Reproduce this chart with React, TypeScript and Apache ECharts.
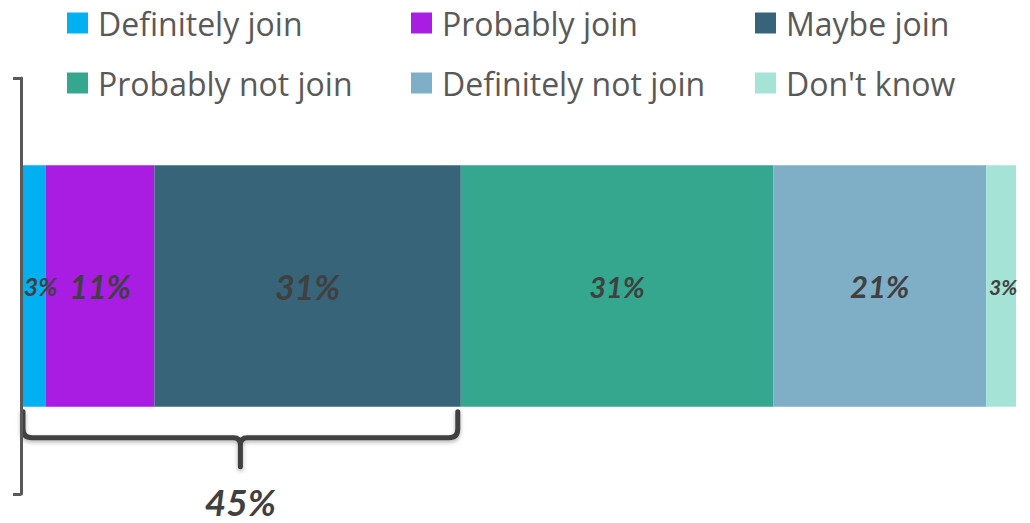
import React, { useEffect, useRef } from "react";
import * as echarts from "echarts";

const categories = [
  "Definitely join",
  "Probably join",
  "Maybe join",
  "Probably not join",
  "Definitely not join",
  "Don't know",
];
const values = [2.5, 10.9, 30.8, 31.4, 21.4, 3.0];
const colors = ["#00B0F0", "#A91DE3", "#376479", "#34A78E", "#7FAFC7", "#A5E3D6"];
const labelFontSizes = [25, 32, 34, 29, 31, 21];
const labelOffsets = [[7, 0], [0, 0], [0, 0], [0, 0], [0, 0], [2, 0]];
const braceCount = 3; // "join" answers grouped by the brace
const axisCategory = ["Share"];

const FONT = "Lato, 'Open Sans', sans-serif";
const LEGEND_FONT = "'Open Sans', 'Noto Sans', sans-serif";

export default function App() {
  const ref = useRef<HTMLDivElement>(null);

  useEffect(() => {
    if (!ref.current) return;
    const chart = echarts.init(ref.current, null, { renderer: "svg" });

    const braceEnd = values.slice(0, braceCount).reduce((a, b) => a + b, 0);
    const braceText =
      values.slice(0, braceCount).reduce((a, b) => a + Math.round(b), 0) + "%";
    const barRatio = 0.58;

    const legendCols = [0, 1, 2].map((c) => ({
      orient: "vertical" as const,
      left: 67 + c * 344,
      top: 7,
      padding: 0,
      itemGap: 28,
      itemWidth: 21,
      itemHeight: 21,
      icon: "rect",
      data: [categories[c], categories[c + 3]],
      textStyle: {
        fontFamily: LEGEND_FONT,
        fontSize: 32,
        color: "#595959",
        padding: [0, 0, 0, 5],
      },
      selectedMode: false,
    }));

    const barSeries = categories.map((name, i) => ({
      name,
      type: "bar",
      stack: "total",
      barWidth: barRatio * 100 + "%",
      data: [values[i]],
      itemStyle: { color: colors[i] },
      label: {
        show: true,
        position: "inside",
        offset: labelOffsets[i],
        formatter: (p: any) => Math.round(p.value) + "%",
        fontFamily: FONT,
        fontStyle: "italic",
        fontWeight: "bold",
        fontSize: labelFontSizes[i],
        color: "#404040",
      },
      z: 2,
    }));

    const braceSeries = {
      type: "custom",
      name: "brace",
      coordinateSystem: "cartesian2d",
      clip: false,
      silent: true,
      z: 3,
      encode: { x: [0, 1], y: 2 },
      data: [[0, braceEnd, 0]],
      renderItem: (params: any, api: any) => {
        const s = api.coord([api.value(0), api.value(2)]);
        const e = api.coord([api.value(1), api.value(2)]);
        const half = (api.size([0, 1])[1] * barRatio) / 2;
        const top = s[1] + half + 5;
        const hy = top + 26;
        const stemB = top + 55;
        const xl = s[0] + 2;
        const xr = e[0] - 3;
        const xm = (xl + xr) / 2;
        const r = 9;
        const r2 = 7;
        const d =
          `M${xl},${top} L${xl},${hy - r} Q${xl},${hy} ${xl + r},${hy} ` +
          `L${xm - r2},${hy} Q${xm},${hy} ${xm},${hy + r2} L${xm},${stemB} ` +
          `M${xm},${hy + r2} Q${xm},${hy} ${xm + r2},${hy} ` +
          `L${xr - r},${hy} Q${xr},${hy} ${xr},${hy - r} L${xr},${top}`;
        return {
          type: "group",
          children: [
            {
              type: "path",
              shape: {
                pathData: d,
                x: xl,
                y: top,
                width: xr - xl,
                height: stemB - top,
                layout: "cover",
              },
              style: {
                fill: "none",
                stroke: "#404040",
                lineWidth: 5,
                lineCap: "round",
                lineJoin: "round",
                shadowBlur: 4,
                shadowOffsetY: 2,
                shadowColor: "rgba(0,0,0,0.3)",
              },
            },
            {
              type: "text",
              x: xm,
              y: top + 90,
              style: {
                text: braceText,
                font: `italic bold 37px ${FONT}`,
                fill: "#404040",
                align: "center",
                verticalAlign: "middle",
              },
            },
          ],
        };
      },
    };

    chart.setOption({
      animation: false,
      legend: legendCols,
      grid: { left: 21, right: 14, top: 78, bottom: 29, containLabel: false },
      xAxis: { type: "value", min: 0, max: 100, show: false },
      yAxis: {
        type: "category",
        data: axisCategory,
        z: 5,
        axisLine: { show: true, lineStyle: { color: "#595959", width: 3 } },
        axisTick: { show: true, length: 8, lineStyle: { color: "#595959", width: 3 } },
        axisLabel: { show: false },
        splitLine: { show: false },
      },
      series: [...barSeries, braceSeries],
    });

    return () => chart.dispose();
  }, []);

  return (
    <div
      ref={ref}
      style={{ position: "fixed", left: 0, top: 0, width: 1030, height: 523, background: "#fff" }}
    />
  );
}
